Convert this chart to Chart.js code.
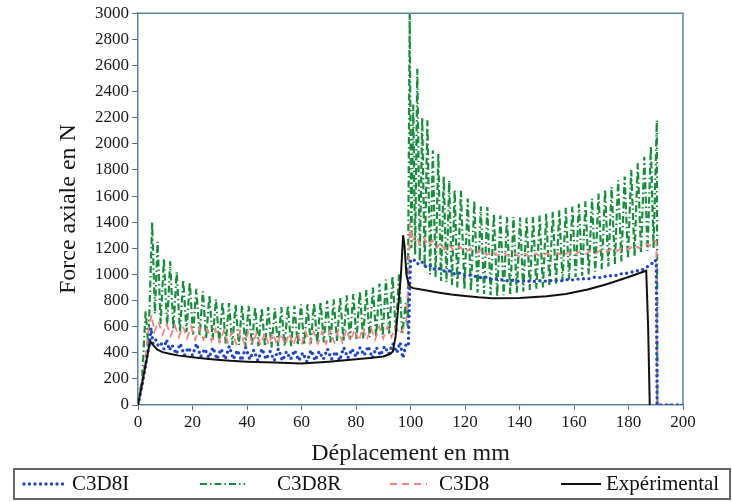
<!DOCTYPE html>
<html><head><meta charset="utf-8">
<script src="https://cdn.jsdelivr.net/npm/chart.js@4/dist/chart.umd.min.js"></script>
<style>html,body{margin:0;padding:0;background:#fff;}canvas{display:block;}</style>
</head><body>
<canvas id="c" width="732" height="502"></canvas>
<script>
// ---------- data ----------
const seriesLabels = ['C3D8I', 'C3D8R', 'C3D8', 'Expérimental'];
const xTicks = [0, 20, 40, 60, 80, 100, 120, 140, 160, 180, 200];
const yTicks = [0, 200, 400, 600, 800, 1000, 1200, 1400, 1600, 1800, 2000, 2200, 2400, 2600, 2800, 3000];
const xTitle = 'Déplacement en mm';
const yTitle = 'Force axiale en N';

// [déplacement mm, force N]
const c3d8i = [[0,0],[1.5,150],[3,330],[4.2,480],[4.8,590],[5.5,470],[6.5,500],[7.5,450],[8.5,470],[9.5,430],[10.5,500],[11.5,420],[12.5,460],[14,390],[15.5,470],[17,380],[18.5,440],[20,380],[21.5,470],[23,370],[24.5,430],[26,360],[27.5,440],[29,350],[30.5,430],[32,350],[33.5,450],[35,350],[36.5,420],[38,340],[39.5,440],[41,350],[42.5,420],[44,340],[45.5,430],[47,350],[48.5,410],[50,340],[51.5,430],[53,340],[54.5,410],[56,350],[57.5,420],[59,340],[60.5,400],[62,330],[63.5,420],[65,340],[66.5,410],[68,350],[69.5,430],[71,350],[72.5,410],[74,340],[75.5,440],[77,360],[78.5,430],[80,370],[81.5,440],[83,380],[84.5,450],[86,360],[87.5,440],[89,380],[90.5,450],[92,390],[93.5,470],[95,400],[96.2,480],[97.2,360],[98.3,460],[99.2,450],[99.6,800],[100,1100],[101,1120],[102.5,1080],[104,1100],[105.5,1060],[107,1075],[108.5,1040],[110,1050],[112,1025],[114,1030],[116,1005],[118,1010],[120,990],[122.5,995],[125,975],[127.5,980],[130,960],[132.5,965],[135,950],[137.5,955],[140,945],[142.5,950],[145,945],[147.5,952],[150,948],[152.5,955],[155,950],[157.5,960],[160,958],[162.5,968],[165,965],[167.5,978],[170,975],[172.5,990],[175,990],[177.5,1005],[180,1010],[182.5,1025],[185,1035],[187,1060],[188.5,1080],[189.5,1110],[190.2,1100],[190.5,0],[200,0]];

const c3d8r = [[0,0],[1.5,200],[2.8,720],[3.8,450],[5.2,1400],[6.2,700],[7.2,1250],[8.3,620],[9.5,1120],[10.7,600],[11.8,1100],[13,580],[14.2,1020],[15.4,560],[16.6,960],[17.8,560],[19,940],[20.2,540],[21.4,890],[22.6,530],[23.8,870],[25,510],[26.2,840],[27.4,500],[28.6,810],[29.8,480],[31,790],[32.2,470],[33.4,780],[34.6,460],[35.8,770],[37,460],[38.2,760],[39.4,450],[40.6,760],[41.8,450],[43,750],[44.2,450],[45.4,740],[46.6,450],[47.8,750],[49,440],[50.2,740],[51.4,450],[52.6,750],[53.8,450],[55,760],[56.2,450],[57.4,760],[58.6,460],[59.8,770],[61,460],[62.2,770],[63.4,470],[64.6,780],[65.8,470],[67,790],[68.2,480],[69.4,800],[70.6,480],[71.8,810],[73,490],[74.2,820],[75.4,490],[76.6,840],[77.8,500],[79,850],[80.2,500],[81.4,870],[82.6,510],[83.8,880],[85,520],[86.2,900],[87.4,520],[88.6,930],[89.8,530],[91,960],[92.2,540],[93.4,990],[94.6,560],[95.8,1000],[97,540],[98.2,780],[99,600],[99.7,3000],[100.3,1200],[101,2300],[101.7,1150],[102.5,2575],[103.4,1100],[104.3,2200],[105.2,1050],[106.2,2180],[107.2,1000],[108.2,1950],[109.2,980],[110.2,1925],[111.2,950],[112.2,1750],[113.2,940],[114.2,1720],[115.2,920],[116.2,1650],[117.2,900],[118.5,1640],[119.8,880],[121,1580],[122.2,870],[123.4,1565],[124.6,860],[125.8,1520],[127,850],[128.2,1515],[129.4,840],[130.6,1465],[131.8,830],[133,1450],[134.2,840],[135.4,1440],[136.6,850],[137.8,1440],[139,860],[140.2,1435],[141.4,870],[142.6,1435],[143.8,880],[145,1440],[146.2,890],[147.4,1450],[148.6,900],[149.8,1465],[151,920],[152.2,1480],[153.4,930],[154.6,1490],[155.8,950],[157,1510],[158.2,960],[159.4,1520],[160.6,980],[161.8,1540],[163,990],[164.2,1560],[165.4,1000],[166.6,1580],[167.8,1020],[169,1620],[170.2,1040],[171.4,1650],[172.6,1060],[173.8,1670],[175,1080],[176.2,1720],[177.4,1100],[178.6,1750],[179.8,1120],[181,1800],[182.2,1140],[183.4,1850],[184.6,1160],[185.8,1900],[187,1180],[188.2,1980],[189.2,1200],[190.4,2180],[190.6,0],[200,0]];

const c3d8 = [[0,0],[2,250],[4,600],[5,690],[6,560],[7.5,640],[9,540],[10.5,620],[12,530],[13.5,610],[15,520],[16.5,600],[18,510],[19.5,600],[21,500],[22.5,590],[24,500],[25.5,580],[27,490],[28.5,580],[30,480],[31.5,570],[33,480],[34.5,560],[36,470],[37.5,560],[39,470],[40.5,560],[42,470],[43.5,550],[45,460],[46.5,550],[48,460],[49.5,550],[51,460],[52.5,550],[54,460],[55.5,550],[57,460],[58.5,550],[60,460],[61.5,560],[63,470],[64.5,560],[66,470],[67.5,560],[69,470],[70.5,570],[72,480],[73.5,570],[75,480],[76.5,580],[78,490],[79.5,580],[81,490],[82.5,590],[84,500],[85.5,590],[87,500],[88.5,600],[90,510],[91.5,600],[93,520],[94.5,600],[96,540],[97.5,590],[98.5,650],[99.3,1000],[99.8,1400],[100.5,1250],[102,1300],[103.5,1230],[105,1280],[106.5,1220],[108,1260],[109.5,1200],[111,1240],[112.5,1190],[114,1230],[116,1180],[118,1215],[120,1170],[122,1200],[124,1160],[126,1190],[128,1150],[130,1180],[132,1145],[134,1170],[136,1140],[138,1165],[140,1135],[142,1160],[144,1135],[146,1160],[148,1135],[150,1160],[152,1140],[154,1165],[156,1140],[158,1170],[160,1145],[162,1175],[164,1150],[166,1180],[168,1160],[170,1190],[172,1170],[174,1200],[176,1180],[178,1210],[180,1190],[182,1225],[184,1200],[186,1240],[188,1220],[189.5,1260],[190.2,1250],[190.4,0],[200,0]];

const experimental = [[0,0],[1,110],[2,220],[3,330],[4,440],[4.6,485],[5.5,460],[7,425],[9,405],[12,390],[15,378],[21,363],[25,355],[30,345],[34,338],[40,332],[50,325],[60,318],[70,332],[80,350],[85,360],[90,372],[92.5,390],[93.5,410],[94.5,520],[95.5,750],[96.5,1000],[97.3,1300],[97.8,1220],[98.5,1000],[99.3,925],[100,905],[101,895],[105,880],[110,862],[115,846],[120,835],[125,825],[130,818],[140,820],[150,832],[157,850],[165,885],[172,925],[180,980],[186.5,1028],[187.2,600],[187.8,0]];

// ---------- chart ----------
const toPts = arr => arr.map(p => ({x: p[0], y: p[1]}));
const serif = 'Liberation Serif';
const axisColor = '#5d8599';

const framePlugin = {
  id: 'frameLegend',
  afterDraw(chart) {
    const {ctx, chartArea: a} = chart;
    ctx.save();
    ctx.strokeStyle = axisColor;
    ctx.lineWidth = 1.5;
    ctx.beginPath();
    ctx.moveTo(a.left, a.top);
    ctx.lineTo(a.right, a.top);
    ctx.lineTo(a.right, a.bottom);
    ctx.stroke();
    // legend box
    ctx.strokeStyle = '#666';
    ctx.lineWidth = 2;
    ctx.strokeRect(14, 469, 716, 30);
    const pos = [[24, 63, 72], [200, 245, 277], [390, 427, 439], [561, 601, 606]];
    const ly = 484;
    chart.data.datasets.forEach((ds, i) => {
      const [x0, x1, tx] = pos[i];
      ctx.save();
      ctx.strokeStyle = ds.borderColor;
      ctx.lineWidth = ds.borderWidth;
      ctx.lineCap = ds.borderCapStyle || 'butt';
      ctx.setLineDash(ds.borderDash || []);
      ctx.beginPath();
      ctx.moveTo(x0, ly);
      ctx.lineTo(x1, ly);
      ctx.stroke();
      ctx.restore();
      ctx.fillStyle = '#111';
      ctx.font = '21px "' + serif + '"';
      ctx.textBaseline = 'middle';
      ctx.textAlign = 'left';
      ctx.fillText(ds.label, tx, ly);
    });
    ctx.restore();
  }
};

new Chart(document.getElementById('c'), {
  type: 'line',
  data: {
    datasets: [
      {label: seriesLabels[0], data: toPts(c3d8i), borderColor: '#2447c4', borderWidth: 3.4, borderDash: [0, 5.5], borderCapStyle: 'round', order: 1},
      {label: seriesLabels[1], data: toPts(c3d8r), borderColor: '#1a8c3e', borderWidth: 2.2, borderDash: [7, 3, 1.5, 3], order: 3},
      {label: seriesLabels[2], data: toPts(c3d8), borderColor: '#f08585', borderWidth: 1.8, borderDash: [7, 5], order: 2},
      {label: seriesLabels[3], data: toPts(experimental), borderColor: '#111111', borderWidth: 2, order: 0}
    ]
  },
  options: {
    responsive: false,
    animation: false,
    elements: {point: {radius: 0}, line: {tension: 0, fill: false}},
    layout: {padding: {top: 13, right: 49, left: 0, bottom: 0}},
    plugins: {legend: {display: false}, tooltip: {enabled: false}},
    scales: {
      x: {
        type: 'linear', min: 0, max: 200,
        afterBuildTicks: s => { s.ticks = xTicks.map(v => ({value: v})); },
        afterFit: s => { s.height = 97; },
        ticks: {font: {family: serif, size: 17}, color: '#1a1a1a', padding: 2, maxRotation: 0, autoSkip: false, callback: v => String(v)},
        grid: {display: true, drawOnChartArea: false, drawTicks: true, tickLength: 5, color: '#4d7388', lineWidth: 1},
        border: {display: true, color: axisColor, width: 1.5},
        title: {display: true, text: xTitle, font: {family: serif, size: 24}, color: '#1a1a1a', padding: {top: 0, bottom: 34}}
      },
      y: {
        type: 'linear', min: 0, max: 3000,
        afterBuildTicks: s => { s.ticks = yTicks.map(v => ({value: v})); },
        afterFit: s => { s.width = 138; },
        ticks: {font: {family: serif, size: 17}, color: '#1a1a1a', padding: 3, autoSkip: false, callback: v => String(v)},
        grid: {display: true, drawOnChartArea: false, drawTicks: true, tickLength: 6, color: '#4d7388', lineWidth: 1},
        border: {display: true, color: axisColor, width: 1.5},
        title: {display: true, text: yTitle, font: {family: serif, size: 24}, color: '#1a1a1a', padding: {top: 54, bottom: 0}}
      }
    }
  },
  plugins: [framePlugin]
});
</script>
</body></html>
